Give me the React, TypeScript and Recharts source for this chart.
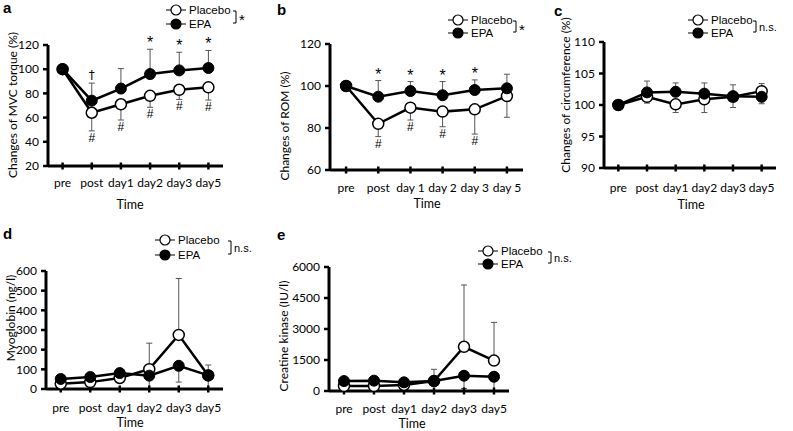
import React from "react"
import { LineChart, Line, XAxis, YAxis, ErrorBar, LabelList } from "recharts"

const W = 793
const H = 431

const times = ["pre", "post", "day1", "day2", "day3", "day5"]
const timesSpaced = ["pre", "post", "day 1", "day 2", "day 3", "day 5"]

// a - MVC torque (%)
const mvcPlacebo = [100, 64, 71, 78, 83, 85]
const mvcEpa = [100, 74, 84, 96, 99, 101]
const mvcPlaceboErr = [[0, 0], [15, 0], [13, 0], [9.5, 0], [8, 0], [10.5, 0]]
const mvcEpaErr = [[0, 0], [0, 14.5], [0, 16.5], [0, 20.5], [0, 15], [0, 14.5]]
const mvcPlaceboMarks = ["", "#", "#", "#", "#", "#"]
const mvcEpaMarks = ["", "†", "", "*", "*", "*"]
const mvcTicks = [20, 40, 60, 80, 100, 120]

// b - ROM (%)
const romPlacebo = [100, 82, 89.7, 87.8, 88.9, 95.2]
const romEpa = [100, 94.9, 97.6, 95.6, 98.1, 98.9]
const romPlaceboErr = [[0, 0], [6.1, 0], [5.9, 0], [7.2, 0], [11.8, 0], [10.1, 0]]
const romEpaErr = [[0, 0], [0, 7.7], [0, 4.5], [0, 6.5], [0, 4.8], [0, 6.7]]
const romPlaceboMarks = ["", "#", "#", "#", "#", ""]
const romEpaMarks = ["", "*", "*", "*", "*", ""]
const romTicks = [60, 80, 100, 120]

// c - circumference (%)
const circPlacebo = [100, 101.3, 100.1, 100.9, 101.3, 102.2]
const circEpa = [100, 102.0, 102.1, 101.8, 101.4, 101.3]
const circPlaceboErr = [[0, 0], [1.0, 0], [1.3, 0], [2.1, 0], [1.7, 0], [0, 1.2]]
const circEpaErr = [[0, 0], [0, 1.8], [0, 1.4], [0, 1.7], [0, 1.8], [1.1, 0]]
const circTicks = [90, 95, 100, 105, 110]

// d - myoglobin (ng/l)
const mbPlacebo = [27, 35, 56, 101, 275, 69]
const mbEpa = [51, 61, 81, 68, 118, 69]
const mbPlaceboErr = [[0, 0], [0, 0], [0, 0], [0, 132], [0, 287], [0, 53]]
const mbEpaErr = [[0, 0], [0, 0], [0, 0], [68, 0], [83, 0], [69, 0]]
const mbTicks = [0, 100, 200, 300, 400, 500, 600]

// e - creatine kinase (IU/l)
const ckPlacebo = [240, 240, 290, 480, 2140, 1470]
const ckEpa = [480, 500, 420, 480, 740, 690]
const ckPlaceboErr = [[0, 0], [0, 0], [0, 0], [0, 570], [0, 2990], [0, 1850]]
const ckEpaErr = [[0, 0], [0, 0], [0, 0], [0, 0], [620, 0], [690, 0]]
const ckTicks = [0, 1500, 3000, 4500, 6000]

const LABEL_FONT = "Lato, 'Open Sans', sans-serif"
const ARIAL = "'Liberation Sans', Arial, sans-serif"

type PanelDef = {
  cats: string[]
  placebo: number[]
  epa: number[]
  placeboErr: number[][]
  epaErr: number[][]
  placeboMarks?: string[]
  epaMarks?: string[]
  ticks: number[]
  box: [number, number, number, number] // plot left, top, right, bottom
  tickGap: number
}

const panels: PanelDef[] = [
  { cats: times, placebo: mvcPlacebo, epa: mvcEpa, placeboErr: mvcPlaceboErr, epaErr: mvcEpaErr,
    placeboMarks: mvcPlaceboMarks, epaMarks: mvcEpaMarks, ticks: mvcTicks, box: [48, 45, 223, 166], tickGap: 5 },
  { cats: timesSpaced, placebo: romPlacebo, epa: romEpa, placeboErr: romPlaceboErr, epaErr: romEpaErr,
    placeboMarks: romPlaceboMarks, epaMarks: romEpaMarks, ticks: romTicks, box: [330, 44, 523, 170], tickGap: 6 },
  { cats: times, placebo: circPlacebo, epa: circEpa, placeboErr: circPlaceboErr, epaErr: circEpaErr,
    ticks: circTicks, box: [604, 42, 776, 168], tickGap: 8 },
  { cats: times, placebo: mbPlacebo, epa: mbEpa, placeboErr: mbPlaceboErr, epaErr: mbEpaErr,
    ticks: mbTicks, box: [46, 271, 223, 389], tickGap: 7 },
  { cats: times, placebo: ckPlacebo, epa: ckEpa, placeboErr: ckPlaceboErr, epaErr: ckEpaErr,
    ticks: ckTicks, box: [329, 267, 509, 391], tickGap: 6 },
]

const markAbove = (props: any) => {
  const { x, y, value } = props
  if (!value) return null
  const star = value === "*"
  return (
    <text
      x={x}
      y={y - (star ? 1 : 4)}
      textAnchor="middle"
      fontSize={star ? 16 : 12}
      fontFamily={star ? ARIAL : "'DejaVu Sans', sans-serif"}
      fill="#000"
      stroke="none"
    >
      {value}
    </text>
  )
}

const markBelow = (props: any) => {
  const { x, y, value } = props
  if (!value) return null
  return (
    <text x={x} y={y + 11} textAnchor="middle" fontSize={12} fontFamily={ARIAL} fill="#000" stroke="none">
      {value}
    </text>
  )
}

const Panel = ({ def }: { def: PanelDef }) => {
  const [l, t, r, b] = def.box
  const data = def.cats.map((c, i) => ({
    t: c,
    placebo: def.placebo[i],
    epa: def.epa[i],
    placeboErr: def.placeboErr[i],
    epaErr: def.epaErr[i],
    low: def.placebo[i] - def.placeboErr[i][0],
    high: def.epa[i] + def.epaErr[i][1],
    pMark: def.placeboMarks ? def.placeboMarks[i] : "",
    eMark: def.epaMarks ? def.epaMarks[i] : "",
  }))
  const pad = (r - l) / 12
  const ticks = def.ticks
  return (
    <div style={{ position: "absolute", left: 0, top: 0 }}>
      <LineChart
        width={W}
        height={H}
        data={data}
        margin={{ top: t, right: W - r, bottom: H - b - 30, left: l - 40 }}
      >
        <XAxis
          dataKey="t"
          height={30}
          interval={0}
          padding={{ left: pad, right: pad }}
          axisLine={{ stroke: "#000", strokeWidth: 3 }}
          tickLine={{ stroke: "#000", strokeWidth: 2.5, transform: "translate(0,-3.5)" }}
          tickSize={7}
          tickMargin={def.tickGap}
          tick={{ fill: "#000", fontSize: 12, fontFamily: LABEL_FONT }}
        />
        <YAxis
          width={40}
          type="number"
          domain={[ticks[0], ticks[ticks.length - 1]]}
          ticks={ticks}
          allowDataOverflow
          interval={0}
          axisLine={{ stroke: "#000", strokeWidth: 3 }}
          tickLine={{ stroke: "#000", strokeWidth: 2.5 }}
          tickSize={5}
          tickMargin={4}
          tick={{ fill: "#000", fontSize: 12, fontFamily: LABEL_FONT }}
        />
        <Line
          dataKey="placebo"
          stroke="#000"
          strokeWidth={2.5}
          dot={{ r: 5.5, fill: "#fff", stroke: "#000", strokeWidth: 1.5 }}
          activeDot={false}
          isAnimationActive={false}
        >
          <ErrorBar dataKey="placeboErr" direction="y" width={3} stroke="#555" strokeWidth={1} />
        </Line>
        <Line
          dataKey="epa"
          stroke="#000"
          strokeWidth={2.5}
          dot={{ r: 5.5, fill: "#000", stroke: "#000", strokeWidth: 1 }}
          activeDot={false}
          isAnimationActive={false}
        >
          <ErrorBar dataKey="epaErr" direction="y" width={3} stroke="#555" strokeWidth={1} />
        </Line>
        {def.placeboMarks && (
          <Line dataKey="low" stroke="none" dot={false} activeDot={false} isAnimationActive={false}>
            <LabelList dataKey="pMark" content={markBelow} />
          </Line>
        )}
        {def.epaMarks && (
          <Line dataKey="high" stroke="none" dot={false} activeDot={false} isAnimationActive={false}>
            <LabelList dataKey="eMark" content={markAbove} />
          </Line>
        )}
      </LineChart>
    </div>
  )
}

const letters = [
  { t: "a", x: 3, y: 13 },
  { t: "b", x: 277, y: 15 },
  { t: "c", x: 554, y: 16 },
  { t: "d", x: 3, y: 239 },
  { t: "e", x: 277, y: 240 },
]

const yTitles = [
  { t: "Changes of MVC torque (%)", x: 12, y: 105 },
  { t: "Changes of ROM (%)", x: 284, y: 126 },
  { t: "Changes of circumference (%)", x: 565, y: 95 },
  { t: "Myoglobin (ng/l)", x: 10, y: 318 },
  { t: "Creatine kinase (IU/l)", x: 283, y: 336 },
]

const xTitles = [
  { x: 130, y: 204 },
  { x: 427, y: 203 },
  { x: 691, y: 204 },
  { x: 130, y: 422 },
  { x: 412, y: 423 },
]

const legends = [
  { x: 166, y1: 10, y2: 24, bx: 236, note: "*" },
  { x: 448, y1: 20, y2: 33, bx: 516, note: "*" },
  { x: 688, y1: 20, y2: 33, bx: 756, note: "n.s." },
  { x: 155, y1: 240, y2: 255, bx: 231, note: "n.s." },
  { x: 478, y1: 251, y2: 264, bx: 551, note: "n.s." },
]

const LegendRow = ({ x, y, filled, label }: { x: number; y: number; filled: boolean; label: string }) => (
  <g>
    <line x1={x} y1={y} x2={x + 20} y2={y} stroke="#000" strokeWidth={1} />
    <circle cx={x + 10} cy={y} r={5} fill={filled ? "#000" : "#fff"} stroke="#000" strokeWidth={1.2} />
    <text x={x + 23} y={y + 4} fontSize={11.5} fontFamily={ARIAL} fill="#000">
      {label}
    </text>
  </g>
)

const Overlay = () => (
  <svg width={W} height={H} style={{ position: "absolute", left: 0, top: 0, pointerEvents: "none" }}>
    {letters.map((d) => (
      <text key={d.t} x={d.x} y={d.y} fontSize={15} fontWeight="bold" fontFamily={ARIAL} fill="#000">
        {d.t}
      </text>
    ))}
    {yTitles.map((d) => (
      <text
        key={d.t}
        x={d.x}
        y={d.y}
        transform={`rotate(-90 ${d.x} ${d.y})`}
        textAnchor="middle"
        dominantBaseline="central"
        fontSize={12}
        fontFamily={LABEL_FONT}
        fill="#000"
      >
        {d.t}
      </text>
    ))}
    {xTitles.map((d, i) => (
      <text key={i} x={d.x} y={d.y} textAnchor="middle" dominantBaseline="central" fontSize={12.5} fontFamily={LABEL_FONT} fill="#000">
        Time
      </text>
    ))}
    {legends.map((d, i) => (
      <g key={i}>
        <LegendRow x={d.x} y={d.y1} filled={false} label="Placebo" />
        <LegendRow x={d.x} y={d.y2} filled label="EPA" />
        <path d={`M${d.bx - 3} ${d.y1 + 1} H${d.bx} V${d.y2 - 1} H${d.bx - 3}`} fill="none" stroke="#000" strokeWidth={1} />
        <text
          x={d.bx + 3}
          y={(d.y1 + d.y2) / 2 + (d.note === "*" ? 8 : 4)}
          fontSize={d.note === "*" ? 15 : 11}
          fontFamily={ARIAL}
          fill="#000"
        >
          {d.note}
        </text>
      </g>
    ))}
  </svg>
)

export default function App() {
  return (
    <div style={{ position: "absolute", left: 0, top: 0, width: W, height: H, background: "#fff" }}>
      {panels.map((p, i) => (
        <Panel key={i} def={p} />
      ))}
      <Overlay />
    </div>
  )
}
